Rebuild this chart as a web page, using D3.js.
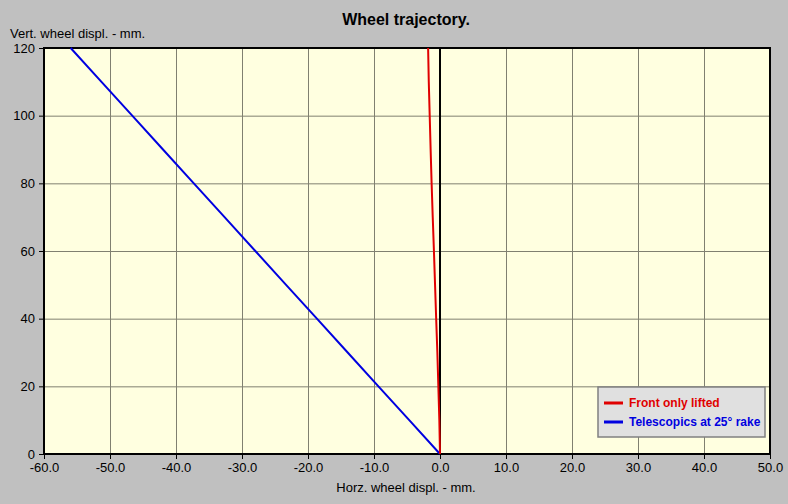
<!DOCTYPE html>
<html>
<head>
<meta charset="utf-8">
<script src="https://cdn.jsdelivr.net/npm/d3@7"></script>
<style>
  body { margin: 0; background: #c0c0c0; }
  svg { display: block; font-family: 'Liberation Sans', Arial, sans-serif; }
</style>
</head>
<body>
<div id="chart"></div>
<script>
// data (vertical displacement, horizontal displacement)
var vert = [0, 10, 20, 30, 40, 50, 60, 70, 80, 90, 100, 110, 120]
var front_horz = [0, -0.1, -0.25, -0.4, -0.58, -0.75, -0.92, -1.1, -1.27, -1.42, -1.56, -1.7, -1.8]
var tele_horz = [0, -4.66, -9.33, -13.99, -18.65, -23.32, -27.98, -32.64, -37.3, -41.97, -46.63, -51.29, -55.96]
var x_ticks = [-60, -50, -40, -30, -20, -10, 0, 10, 20, 30, 40, 50]
var y_ticks = [0, 20, 40, 60, 80, 100, 120]
var series_names = ['Front only lifted', 'Telescopics at 25° rake']
var series_colors = ['#e00000', '#0000e0']

var W = 788, H = 504
var m_left = 44, m_right = 770, m_top = 48, m_bottom = 454
var font = "'Liberation Sans', Arial, sans-serif"

var svg = d3.select('#chart')
            .append('svg')
            .attr('width', W)
            .attr('height', H)

svg.append('rect')
    .attr('width', W)
    .attr('height', H)
    .attr('fill', '#c0c0c0')

var x = d3.scaleLinear().domain([-60, 50]).range([m_left, m_right])
var y = d3.scaleLinear().domain([0, 120]).range([m_bottom, m_top])

svg.append('rect')
    .attr('x', m_left)
    .attr('y', m_top)
    .attr('width', m_right - m_left)
    .attr('height', m_bottom - m_top)
    .attr('fill', '#ffffe0')

// grid
svg.append('g').selectAll('line')
    .data(x_ticks.filter(function(d){ return d != -60 && d != 0 && d != 50 }))
    .enter().append('line')
    .attr('x1', function(d){ return x(d) + 0.5 })
    .attr('x2', function(d){ return x(d) + 0.5 })
    .attr('y1', m_top)
    .attr('y2', m_bottom)
    .attr('stroke', '#808070')
    .attr('stroke-width', 1)

svg.append('g').selectAll('line')
    .data(y_ticks.filter(function(d){ return d != 0 && d != 120 }))
    .enter().append('line')
    .attr('x1', m_left)
    .attr('x2', m_right)
    .attr('y1', function(d){ return y(d) + 0.5 })
    .attr('y2', function(d){ return y(d) + 0.5 })
    .attr('stroke', '#808070')
    .attr('stroke-width', 1)

// frame
svg.append('rect')
    .attr('x', m_left)
    .attr('y', m_top)
    .attr('width', m_right - m_left)
    .attr('height', m_bottom - m_top)
    .attr('fill', 'none')
    .attr('stroke', 'black')
    .attr('stroke-width', 2)

// zero line
svg.append('line')
    .attr('x1', x(0))
    .attr('x2', x(0))
    .attr('y1', m_top)
    .attr('y2', m_bottom)
    .attr('stroke', 'black')
    .attr('stroke-width', 2)

// axes
var xAxis = d3.axisBottom(x).tickValues(x_ticks).tickSize(5)
    .tickFormat(function(d){ return d.toFixed(1) })
var gx = svg.append('g').attr('transform', 'translate(0,' + m_bottom + ')').call(xAxis)
gx.select('.domain').remove()
gx.selectAll('.tick line').attr('stroke', 'black')
gx.selectAll('.tick text')
    .attr('y', 9)
    .style('font-size', '13px')
    .style('font-family', font)
    .attr('fill', 'black')

var yAxis = d3.axisLeft(y).tickValues(y_ticks).tickSize(5)
var gy = svg.append('g').attr('transform', 'translate(' + m_left + ',0)').call(yAxis)
gy.select('.domain').remove()
gy.selectAll('.tick line').attr('stroke', 'black')
gy.selectAll('.tick text')
    .attr('x', -9)
    .style('font-size', '13px')
    .style('font-family', font)
    .attr('fill', 'black')

// series
var line = d3.line()
    .x(function(d){ return x(d[0]) })
    .y(function(d){ return y(d[1]) })

svg.append('path')
    .datum(vert.map(function(v, i){ return [tele_horz[i], v] }))
    .attr('d', line)
    .attr('fill', 'none')
    .attr('stroke', series_colors[1])
    .attr('stroke-width', 2)

svg.append('path')
    .datum(vert.map(function(v, i){ return [front_horz[i], v] }))
    .attr('d', line)
    .attr('fill', 'none')
    .attr('stroke', series_colors[0])
    .attr('stroke-width', 2)

// titles
svg.append('text')
    .attr('x', 406)
    .attr('y', 25)
    .attr('text-anchor', 'middle')
    .style('font-size', '16px')
    .style('font-weight', 'bold')
    .text('Wheel trajectory.')

svg.append('text')
    .attr('x', 10)
    .attr('y', 38)
    .style('font-size', '13px')
    .text('Vert. wheel displ. - mm.')

svg.append('text')
    .attr('x', 406)
    .attr('y', 492)
    .attr('text-anchor', 'middle')
    .style('font-size', '13px')
    .text('Horz. wheel displ. - mm.')

// legend
var lg = svg.append('g').attr('transform', 'translate(598,387)')
lg.append('rect')
    .attr('width', 167)
    .attr('height', 50)
    .attr('fill', '#e0e0e0')
    .attr('stroke', '#808080')
    .attr('stroke-width', 1.5)
lg.selectAll('line.key')
    .data(series_names)
    .enter().append('line')
    .attr('class', 'key')
    .attr('x1', 6)
    .attr('x2', 25)
    .attr('y1', function(d, i){ return 16 + i * 19 })
    .attr('y2', function(d, i){ return 16 + i * 19 })
    .attr('stroke', function(d, i){ return series_colors[i] })
    .attr('stroke-width', 3)
lg.selectAll('text')
    .data(series_names)
    .enter().append('text')
    .attr('x', 31)
    .attr('y', function(d, i){ return 20 + i * 19 })
    .attr('fill', function(d, i){ return series_colors[i] })
    .style('font-size', '12px')
    .style('font-weight', 'bold')
    .text(function(d){ return d })
</script>
</body>
</html>
